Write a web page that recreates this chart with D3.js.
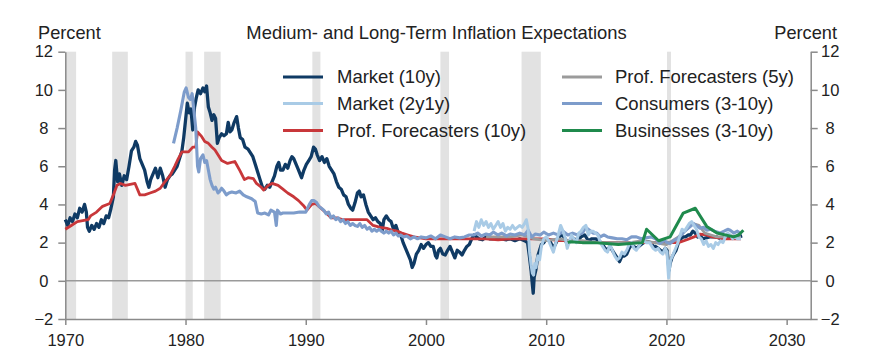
<!DOCTYPE html>
<html><head><meta charset="utf-8">
<script src="https://cdn.jsdelivr.net/npm/d3@7"></script>
<style>body{margin:0;background:#fff}svg{display:block}text{font-family:"Liberation Sans",Arial,sans-serif;fill:#222}</style>
</head><body>
<svg id="c" width="869" height="357"></svg>
<script>
const recessions = [[1969.95,1970.9],[1973.9,1975.2],[1980.0,1980.6],[1981.55,1982.92],[1990.55,1991.22],[2001.2,2001.92],[2007.95,2009.55],[2020.05,2020.38]];
const xTicks = [1970,1980,1990,2000,2010,2020,2030];
const yTicks = [-2,0,2,4,6,8,10,12];

const market10y = [[1970.0,3.2],[1970.2,2.9],[1970.4,3.3],[1970.6,3.1],[1970.8,3.5],[1971.0,3.3],[1971.2,3.8],[1971.4,3.6],[1971.6,4.0],[1971.75,3.6],[1971.85,2.8],[1972.0,2.6],[1972.2,2.9],[1972.4,2.7],[1972.6,3.0],[1972.8,2.8],[1973.0,3.2],[1973.2,3.0],[1973.4,3.4],[1973.6,3.3],[1973.8,3.8],[1974.0,4.4],[1974.1,5.8],[1974.2,6.3],[1974.35,5.2],[1974.5,5.6],[1974.7,5.0],[1974.9,5.5],[1975.1,5.3],[1975.3,6.0],[1975.5,6.8],[1975.7,7.0],[1975.85,7.3],[1976.0,7.1],[1976.2,6.4],[1976.4,6.1],[1976.6,5.8],[1976.8,5.2],[1976.95,4.9],[1977.1,5.3],[1977.3,5.6],[1977.5,5.9],[1977.7,5.4],[1977.9,5.9],[1978.1,5.5],[1978.3,4.9],[1978.5,5.3],[1978.7,5.5],[1978.9,5.6],[1979.1,5.8],[1979.3,6.0],[1979.5,6.4],[1979.7,6.8],[1979.85,7.5],[1980.0,8.4],[1980.15,9.3],[1980.3,8.8],[1980.45,9.0],[1980.6,7.9],[1980.75,9.1],[1980.9,9.6],[1981.05,10.0],[1981.25,9.8],[1981.45,10.1],[1981.6,9.9],[1981.75,10.2],[1981.9,9.1],[1982.05,8.8],[1982.2,8.4],[1982.35,8.7],[1982.5,8.5],[1982.65,7.2],[1982.8,7.5],[1983.0,7.7],[1983.2,7.6],[1983.4,7.7],[1983.55,8.3],[1983.7,7.8],[1983.85,7.9],[1984.05,8.3],[1984.25,8.6],[1984.4,8.0],[1984.55,7.5],[1984.75,7.4],[1984.95,7.0],[1985.2,6.9],[1985.4,6.7],[1985.6,6.5],[1985.8,6.1],[1986.0,5.7],[1986.2,5.3],[1986.4,4.9],[1986.6,4.8],[1986.8,5.0],[1987.0,4.9],[1987.2,5.2],[1987.4,5.5],[1987.6,6.0],[1987.75,6.2],[1987.9,5.8],[1988.1,5.8],[1988.3,6.1],[1988.5,5.9],[1988.7,6.3],[1988.85,6.5],[1989.0,6.4],[1989.2,6.1],[1989.4,5.8],[1989.65,5.4],[1989.85,5.8],[1990.05,6.1],[1990.25,6.3],[1990.45,6.5],[1990.65,7.0],[1990.8,6.9],[1990.95,6.6],[1991.15,6.3],[1991.35,6.5],[1991.55,6.2],[1991.75,6.4],[1991.95,6.0],[1992.15,5.8],[1992.35,5.6],[1992.55,5.2],[1992.75,4.9],[1992.95,4.8],[1993.15,4.5],[1993.35,4.4],[1993.55,4.0],[1993.75,3.8],[1993.9,3.7],[1994.1,4.1],[1994.3,4.6],[1994.45,4.7],[1994.6,4.4],[1994.8,4.5],[1995.0,4.0],[1995.2,3.6],[1995.4,3.4],[1995.6,3.2],[1995.8,3.3],[1996.0,3.1],[1996.2,3.0],[1996.35,2.6],[1996.5,3.2],[1996.7,3.4],[1996.9,3.2],[1997.1,3.1],[1997.3,2.7],[1997.5,2.9],[1997.7,2.5],[1997.9,2.4],[1998.1,2.0],[1998.3,1.7],[1998.5,1.4],[1998.7,1.1],[1998.85,0.7],[1999.0,0.9],[1999.2,1.4],[1999.4,1.6],[1999.6,1.9],[1999.8,1.7],[2000.0,1.9],[2000.2,2.0],[2000.4,1.8],[2000.6,1.8],[2000.8,1.3],[2000.9,1.2],[2001.05,1.6],[2001.2,1.7],[2001.4,1.4],[2001.6,1.35],[2001.8,1.6],[2002.0,1.8],[2002.2,1.5],[2002.4,1.2],[2002.6,1.6],[2002.8,1.5],[2003.0,1.35],[2003.2,1.6],[2003.4,1.8],[2003.6,1.9],[2003.8,2.2],[2004.0,2.4],[2004.2,2.3],[2004.4,2.2],[2004.7,2.15],[2005.0,2.3],[2005.3,2.2],[2005.6,2.2],[2006.0,2.3],[2006.3,2.2],[2006.7,2.15],[2007.0,2.2],[2007.4,2.1],[2007.8,2.2],[2008.2,2.1],[2008.45,2.0],[2008.6,1.3],[2008.75,0.5],[2008.85,-0.2],[2008.92,-0.65],[2009.0,0.2],[2009.15,0.6],[2009.3,1.3],[2009.45,1.6],[2009.6,1.9],[2009.8,2.0],[2010.0,2.2],[2010.3,2.1],[2010.6,1.7],[2010.9,2.1],[2011.2,2.4],[2011.5,2.3],[2011.75,1.9],[2012.0,2.1],[2012.3,2.2],[2012.6,2.1],[2012.9,2.3],[2013.2,2.4],[2013.5,2.1],[2013.8,2.2],[2014.1,2.2],[2014.4,2.1],[2014.7,1.9],[2014.9,1.7],[2015.1,1.6],[2015.3,1.8],[2015.5,1.6],[2015.7,1.4],[2015.9,1.2],[2016.1,1.0],[2016.3,1.3],[2016.5,1.3],[2016.7,1.4],[2016.9,1.7],[2017.1,1.9],[2017.3,1.8],[2017.5,1.7],[2017.7,1.8],[2017.9,1.9],[2018.1,2.0],[2018.4,2.05],[2018.7,2.0],[2018.9,1.8],[2019.1,1.8],[2019.3,1.7],[2019.5,1.6],[2019.7,1.5],[2019.9,1.7],[2020.05,1.6],[2020.15,1.0],[2020.22,0.55],[2020.3,0.9],[2020.45,1.2],[2020.6,1.4],[2020.8,1.6],[2021.0,2.0],[2021.2,2.2],[2021.4,2.3],[2021.6,2.3],[2021.8,2.4],[2022.0,2.4],[2022.2,2.6],[2022.4,2.5],[2022.6,2.3],[2022.8,2.4],[2023.0,2.2],[2023.3,2.25],[2023.6,2.3],[2023.9,2.3],[2024.2,2.3],[2024.5,2.2],[2024.8,2.3],[2025.1,2.35],[2025.4,2.3],[2025.7,2.3],[2026.0,2.3],[2026.3,2.35]];

const market2y1y = [[2004.0,2.6],[2004.2,3.1],[2004.4,2.8],[2004.6,3.2],[2004.8,2.9],[2005.0,3.1],[2005.2,2.8],[2005.4,3.0],[2005.6,2.7],[2005.8,2.9],[2006.0,3.1],[2006.2,2.8],[2006.4,3.0],[2006.6,2.6],[2006.8,2.8],[2007.0,2.7],[2007.2,2.9],[2007.4,2.7],[2007.6,2.8],[2007.8,2.9],[2008.0,2.8],[2008.2,3.0],[2008.35,3.2],[2008.5,2.7],[2008.62,1.5],[2008.75,0.8],[2008.85,0.4],[2008.95,0.3],[2009.05,0.9],[2009.15,0.7],[2009.3,1.3],[2009.45,1.1],[2009.6,1.8],[2009.8,2.2],[2010.0,2.3],[2010.2,2.1],[2010.4,1.8],[2010.6,1.5],[2010.8,2.0],[2011.0,2.4],[2011.2,2.9],[2011.4,2.6],[2011.6,2.2],[2011.75,1.7],[2011.9,2.0],[2012.1,2.4],[2012.3,2.2],[2012.5,2.0],[2012.7,2.5],[2012.9,2.6],[2013.1,2.8],[2013.3,2.9],[2013.5,2.4],[2013.7,2.6],[2013.9,2.6],[2014.1,2.5],[2014.3,2.4],[2014.5,2.0],[2014.7,1.8],[2014.9,1.6],[2015.1,1.5],[2015.3,1.9],[2015.5,1.6],[2015.7,1.3],[2015.9,1.1],[2016.1,1.2],[2016.3,1.5],[2016.5,1.4],[2016.7,1.6],[2016.9,1.9],[2017.1,2.0],[2017.3,1.7],[2017.5,1.6],[2017.7,1.8],[2017.9,2.0],[2018.1,2.1],[2018.3,2.0],[2018.6,2.0],[2018.9,1.7],[2019.1,1.6],[2019.3,1.7],[2019.5,1.5],[2019.7,1.4],[2019.9,1.7],[2020.05,1.5],[2020.12,0.7],[2020.18,0.15],[2020.25,0.6],[2020.35,1.1],[2020.5,1.3],[2020.7,1.6],[2020.9,1.9],[2021.1,2.3],[2021.3,2.7],[2021.5,2.6],[2021.7,2.8],[2021.9,3.0],[2022.1,3.1],[2022.3,2.9],[2022.5,2.7],[2022.7,2.3],[2022.9,2.2],[2023.1,1.9],[2023.3,2.1],[2023.5,1.8],[2023.7,1.9],[2023.9,1.7],[2024.1,2.0],[2024.3,1.9],[2024.5,2.1],[2024.7,2.0],[2024.9,2.3],[2025.1,2.5],[2025.3,2.4],[2025.5,2.2],[2025.7,2.3],[2025.9,2.2],[2026.2,2.2]];

const prof10y = [[1970.0,2.7],[1970.5,2.9],[1971.0,3.1],[1971.9,3.2],[1972.1,3.4],[1972.6,3.6],[1973.1,3.9],[1973.7,4.05],[1974.0,4.5],[1974.3,5.0],[1974.6,5.1],[1975.0,5.0],[1975.8,5.1],[1976.2,4.5],[1976.6,4.5],[1977.05,4.6],[1977.5,4.7],[1977.9,4.85],[1978.3,5.2],[1978.7,5.5],[1979.1,6.0],[1979.4,6.4],[1979.7,6.75],[1980.25,6.75],[1980.6,7.0],[1980.85,7.0],[1981.0,7.8],[1981.35,7.55],[1981.6,7.3],[1981.9,7.2],[1982.2,7.0],[1982.45,6.85],[1982.7,6.6],[1983.0,6.3],[1983.5,6.15],[1984.1,6.25],[1984.5,5.8],[1984.9,5.3],[1985.2,5.4],[1985.65,5.35],[1985.9,5.1],[1986.3,4.9],[1986.5,4.75],[1986.9,5.0],[1987.2,5.1],[1987.7,5.0],[1988.1,4.8],[1988.5,4.6],[1989.0,4.4],[1989.4,4.2],[1989.8,3.95],[1990.1,3.7],[1990.5,4.0],[1990.8,4.05],[1991.1,3.9],[1991.45,3.7],[1991.8,3.5],[1992.1,3.3],[1992.6,3.3],[1993.1,3.2],[1993.6,3.2],[1994.25,3.2],[1995.1,3.2],[1995.6,2.9],[1996.2,2.8],[1996.75,2.75],[1997.2,2.65],[1997.6,2.6],[1998.0,2.5],[1998.5,2.4],[1999.0,2.3],[2000.0,2.2],[2001.0,2.2],[2002.0,2.2],[2003.0,2.2],[2004.0,2.2],[2005.0,2.2],[2006.0,2.15],[2007.0,2.2],[2008.0,2.2],[2009.0,2.2],[2010.0,2.2],[2011.0,2.1],[2012.0,2.1],[2013.0,2.0],[2014.0,2.0],[2015.0,2.0],[2016.0,2.0],[2017.0,2.0],[2018.0,2.0],[2019.0,2.0],[2020.0,2.0],[2021.0,2.0],[2021.7,2.15],[2022.3,2.3],[2022.8,2.45],[2023.3,2.4],[2023.8,2.3],[2024.3,2.25],[2024.8,2.2],[2025.3,2.2],[2025.8,2.2],[2026.2,2.2]];

const prof5y = [[2005.0,2.3],[2006.0,2.3],[2007.0,2.3],[2008.0,2.4],[2009.0,2.2],[2010.0,2.1],[2011.0,2.2],[2012.0,2.1],[2013.0,2.1],[2014.0,2.0],[2015.0,2.0],[2016.0,2.0],[2017.0,2.0],[2018.0,2.1],[2019.0,2.0],[2020.0,1.9],[2021.0,2.3],[2021.7,2.7],[2022.2,3.0],[2022.7,2.9],[2023.2,2.5],[2023.7,2.4],[2024.2,2.3],[2024.7,2.3],[2025.2,2.4],[2025.7,2.3],[2026.2,2.3]];

const consumers = [[1979.0,7.2],[1979.3,8.0],[1979.6,8.9],[1979.9,9.9],[1980.05,10.1],[1980.25,9.6],[1980.4,9.5],[1980.55,9.8],[1980.7,8.9],[1980.85,8.0],[1981.0,6.0],[1981.1,5.7],[1981.25,6.4],[1981.45,6.6],[1981.6,6.2],[1981.75,6.3],[1981.9,5.8],[1982.05,5.3],[1982.2,5.0],[1982.35,4.8],[1982.5,4.9],[1982.7,4.6],[1982.85,4.7],[1983.0,4.85],[1983.2,4.7],[1983.4,4.5],[1983.6,4.6],[1983.85,4.65],[1984.2,4.6],[1984.5,4.7],[1984.8,4.5],[1985.1,4.4],[1985.5,4.3],[1985.8,4.15],[1986.0,3.55],[1986.3,3.5],[1986.6,3.55],[1986.9,3.45],[1987.1,3.7],[1987.4,3.6],[1987.55,2.9],[1987.65,3.7],[1987.9,3.5],[1988.1,3.55],[1988.5,3.55],[1989.0,3.55],[1989.5,3.6],[1990.0,3.6],[1990.3,4.0],[1990.5,4.2],[1990.7,4.2],[1990.9,4.1],[1991.1,3.9],[1991.3,3.8],[1991.5,3.7],[1991.7,3.5],[1991.9,3.6],[1992.1,3.3],[1992.3,3.4],[1992.5,3.2],[1992.7,3.3],[1992.9,3.1],[1993.1,3.2],[1993.3,3.0],[1993.5,3.1],[1993.7,2.9],[1993.9,3.0],[1994.1,2.9],[1994.3,2.85],[1994.5,3.0],[1994.7,2.8],[1994.9,2.9],[1995.1,2.7],[1995.3,2.8],[1995.5,2.6],[1995.7,2.7],[1995.9,2.6],[1996.1,2.7],[1996.3,2.6],[1996.5,2.5],[1996.7,2.6],[1996.9,2.5],[1997.1,2.6],[1997.3,2.4],[1997.5,2.5],[1997.7,2.35],[1997.9,2.4],[1998.1,2.3],[1998.4,2.35],[1998.7,2.2],[1999.0,2.3],[1999.3,2.2],[1999.6,2.3],[2000.0,2.25],[2000.4,2.35],[2000.8,2.2],[2001.2,2.4],[2001.6,2.3],[2002.0,2.2],[2002.4,2.3],[2002.8,2.25],[2003.2,2.3],[2003.6,2.4],[2004.0,2.4],[2004.3,2.5],[2004.6,2.35],[2005.0,2.45],[2005.3,2.4],[2005.6,2.55],[2006.0,2.4],[2006.3,2.5],[2006.7,2.35],[2007.0,2.45],[2007.4,2.4],[2007.8,2.5],[2008.2,2.4],[2008.5,2.65],[2008.8,2.3],[2009.1,2.45],[2009.5,2.4],[2009.8,2.55],[2010.2,2.4],[2010.6,2.5],[2011.0,2.4],[2011.4,2.6],[2011.8,2.4],[2012.2,2.5],[2012.6,2.4],[2013.0,2.5],[2013.3,2.8],[2013.6,2.65],[2013.9,2.5],[2014.2,2.5],[2014.5,2.3],[2014.8,2.4],[2015.1,2.3],[2015.5,2.25],[2015.9,2.2],[2016.3,2.2],[2016.7,2.15],[2017.1,2.3],[2017.5,2.3],[2017.9,2.2],[2018.3,2.25],[2018.7,2.3],[2019.1,2.2],[2019.45,1.95],[2019.8,2.1],[2020.1,2.0],[2020.3,1.95],[2020.6,2.1],[2020.9,2.2],[2021.1,2.3],[2021.5,2.6],[2021.9,2.8],[2022.25,3.0],[2022.5,2.9],[2022.8,2.75],[2023.1,2.8],[2023.35,2.65],[2023.7,2.7],[2024.0,2.6],[2024.45,2.5],[2024.8,2.6],[2025.1,2.7],[2025.3,2.65],[2025.6,2.5],[2025.9,2.6],[2026.1,2.5]];

const businesses = [[2011.8,2.0],[2012.0,2.05],[2013.0,2.0],[2014.0,2.0],[2015.0,1.95],[2016.0,1.9],[2017.0,1.95],[2018.0,2.0],[2018.35,2.7],[2019.35,2.1],[2020.3,2.3],[2021.4,3.55],[2022.4,3.8],[2023.35,2.85],[2024.2,2.5],[2025.6,2.3],[2026.0,2.4],[2026.4,2.65]];

const seriesNames = ["Market (10y)","Market (2y1y)","Prof. Forecasters (10y)","Prof. Forecasters (5y)","Consumers (3-10y)","Businesses (3-10y)"];
const seriesColors = ["#0f3a64","#a9cbe6","#c8373a","#9b9b9b","#7d9ccb","#1f8a4c"];

const svg = d3.select("#c");
const x = d3.scaleLinear().domain([1970,2032]).range([65.3,810.7]);
const y = d3.scaleLinear().domain([-2,12]).range([319,51.7]);
const axisColor = "#8a8a8a";

// recession bands
svg.append("g").selectAll("rect").data(recessions).join("rect")
  .attr("x", d => x(Math.max(1970,d[0]))).attr("width", d => x(d[1]) - x(Math.max(1970,d[0])))
  .attr("y", y(12)).attr("height", y(-2) - y(12)).attr("fill", "#e2e2e2");

// zero line
svg.append("line").attr("x1", x(1970)).attr("x2", x(2032)).attr("y1", y(0)).attr("y2", y(0))
  .attr("stroke", "#9a9a9a").attr("stroke-width", 1.4);

// axes
function styleAxis(g){
  g.select(".domain").attr("stroke", axisColor).attr("stroke-width", 1.5);
  g.selectAll(".tick line").attr("stroke", axisColor).attr("stroke-width", 1.5);
  g.selectAll(".tick text").style("font-size","16.5px").attr("fill","#222");
}
const gl = svg.append("g").attr("transform",`translate(${x(1970)},0)`)
  .call(d3.axisLeft(y).tickValues(yTicks).tickSize(7).tickSizeOuter(0));
styleAxis(gl); gl.selectAll(".tick text").attr("text-anchor","middle").attr("x",-21.5);
const gr = svg.append("g").attr("transform",`translate(${x(2032)},0)`)
  .call(d3.axisRight(y).tickValues(yTicks).tickSize(7).tickSizeOuter(0));
styleAxis(gr); gr.selectAll(".tick text").attr("text-anchor","middle").attr("x",19.5);
const gb = svg.append("g").attr("transform",`translate(0,${y(-2)})`)
  .call(d3.axisBottom(x).tickValues(xTicks).tickFormat(d3.format("d")).tickSize(6).tickSizeOuter(0));
styleAxis(gb); gb.selectAll(".tick text").attr("y",15.5);

// lines
const line = d3.line().x(d => x(d[0])).y(d => y(d[1]));
const drawOrder = [
  {data: market10y, i:0, w:3.3},
  {data: prof10y, i:2, w:2.8},
  {data: prof5y, i:3, w:2.8},
  {data: consumers, i:4, w:3.1},
  {data: market2y1y, i:1, w:3.0},
  {data: businesses, i:5, w:3.0}
];
drawOrder.forEach(s => {
  svg.append("path").datum(s.data).attr("d", line).attr("fill","none")
    .attr("stroke", seriesColors[s.i]).attr("stroke-width", s.w).attr("stroke-linejoin","round");
});

// titles
svg.append("text").attr("x", 436.5).attr("y", 39).attr("text-anchor","middle").style("font-size","18.4px")
  .text("Medium- and Long-Term Inflation Expectations");
svg.append("text").attr("x", 38).attr("y", 39).style("font-size","18.2px").text("Percent");
svg.append("text").attr("x", 837).attr("y", 39).attr("text-anchor","end").style("font-size","18.2px").text("Percent");

// legend
const legCols = [{lx:283, tx:337}, {lx:562, tx:615}];
const legRows = [77, 103.5, 130.5];
seriesNames.forEach((name, i) => {
  const c = legCols[Math.floor(i/3)], ry = legRows[i%3];
  svg.append("line").attr("x1", c.lx).attr("x2", c.lx+40).attr("y1", ry).attr("y2", ry)
    .attr("stroke", seriesColors[i]).attr("stroke-width", 3);
  svg.append("text").attr("x", c.tx).attr("y", ry).attr("dy","0.35em").style("font-size","18.5px").text(name);
});
</script>
</body></html>
